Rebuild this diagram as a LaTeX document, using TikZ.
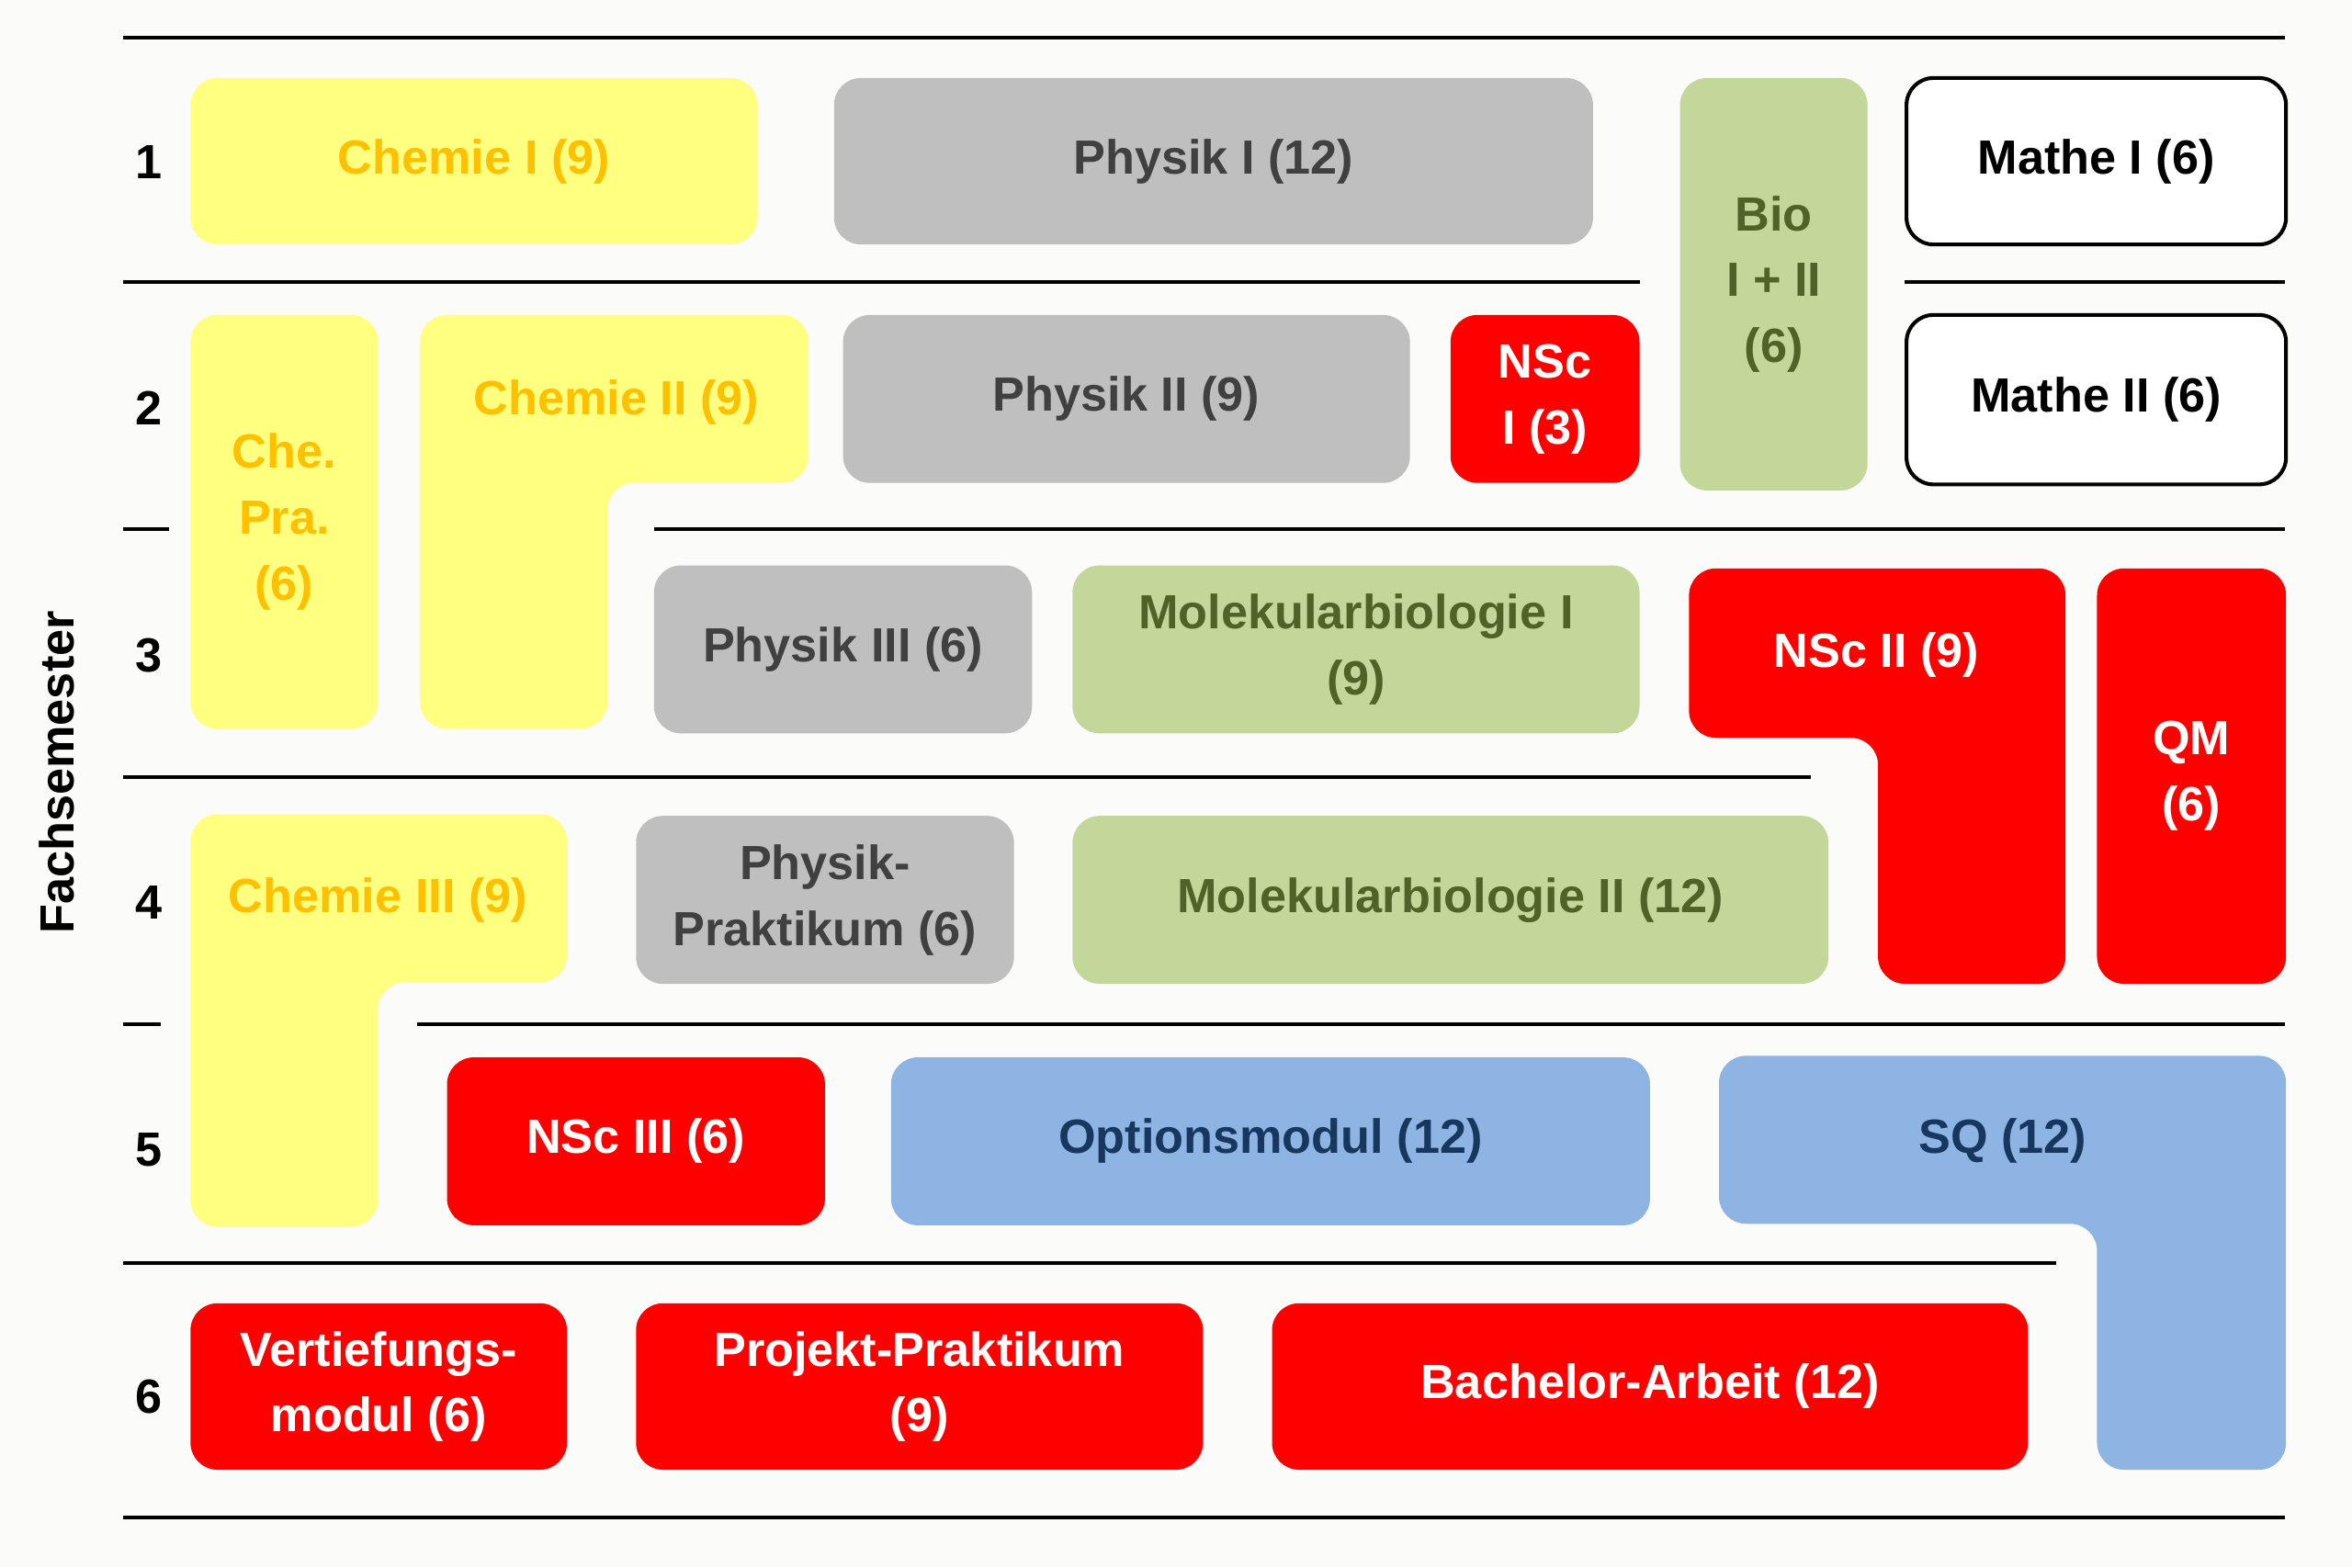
\documentclass[tikz,border=0pt]{standalone}
\usepackage{fontspec}
\setmainfont{Liberation Sans}
\begin{document}
\begin{tikzpicture}[x=1pt,y=-1pt,
  yel/.style={fill=yyel,draw=none},
  gry/.style={fill=ggry,draw=none},
  grn/.style={fill=ggrn,draw=none},
  red/.style={fill=rred,draw=none},
  blu/.style={fill=bblu,draw=none},
  wht/.style={fill=white,draw=black,line width=2.5pt},
  lbl/.style={font=\fontsize{32}{44}\selectfont\bfseries,align=center},
  rule/.style={line width=2.5pt,black},
  rc/.style={rounded corners=18pt}]
\definecolor{yyel}{HTML}{FFFF80}
\definecolor{ggry}{HTML}{BFBFBF}
\definecolor{ggrn}{HTML}{C4D79B}
\definecolor{rred}{HTML}{FF0000}
\definecolor{bblu}{HTML}{8EB4E3}
\definecolor{tor}{HTML}{FFC000}
\definecolor{tgr}{HTML}{404040}
\definecolor{tgn}{HTML}{4F6228}
\definecolor{tbl}{HTML}{17375E}
\fill[fill={rgb,255:red,251;green,251;blue,249}] (0,0) rectangle (1568,1045);
\useasboundingbox (0,0) rectangle (1568,1045);
% rules
\draw[rule] (82,25)--(1523,25);
\draw[rule] (82,188)--(1093,188); \draw[rule] (1270,188)--(1523,188);
\draw[rule] (82,353)--(113,353); \draw[rule] (436,353)--(1523,353);
\draw[rule] (82,518)--(1207,518);
\draw[rule] (82,683)--(107,683); \draw[rule] (278,683)--(1523,683);
\draw[rule] (82,842)--(1371,842);
\draw[rule] (82,1012)--(1523,1012);
% row numbers
\foreach \n/\y in {1/108,2/272,3/437,4/602,5/767,6/931}
  \node[lbl] (r\n) at (99,\y) {\n};
\node[lbl,rotate=90] (fs) at (38,515) {Fachsemester};
% simple boxes
\newcommand{\mybox}[6]{\draw[#1,rc] (#2,#3) rectangle (#4,#5); \node[lbl] (#6) at ({(#2+#4)/2},{(#3+#5)/2})}
\mybox{yel}{127}{52}{505}{163}{chemI}[text=tor]{Chemie I (9)};
\mybox{gry}{556}{52}{1062}{163}{phI}[text=tgr]{Physik I (12)};
\mybox{grn}{1120}{52}{1245}{327}{bio}[text=tgn]{Bio\\I + II\\(6)};
\mybox{wht}{1271}{52}{1524}{163}{maI}{Mathe I (6)};
\mybox{yel}{127}{210}{252}{486}{chepra}[text=tor]{Che.\\Pra.\\(6)};
\mybox{gry}{562}{210}{940}{322}{phII}[text=tgr]{Physik II (9)};
\mybox{red}{967}{210}{1093}{322}{nscI}[text=white]{NSc\\I (3)};
\mybox{wht}{1271}{210}{1524}{323}{maII}{Mathe II (6)};
\mybox{gry}{436}{377}{688}{489}{phIII}[text=tgr]{Physik III (6)};
\mybox{grn}{715}{377}{1093}{489}{mbI}[text=tgn]{Molekularbiologie I\\(9)};
\mybox{red}{1398}{379}{1524}{656}{qm}[text=white]{QM\\(6)};
\mybox{gry}{424}{544}{676}{656}{phpr}[text=tgr]{Physik-\\Praktikum (6)};
\mybox{grn}{715}{544}{1219}{656}{mbII}[text=tgn]{Molekularbiologie II (12)};
\mybox{red}{298}{705}{550}{817}{nscIII}[text=white]{NSc III (6)};
\mybox{blu}{594}{705}{1100}{817}{opt}[text=tbl]{Optionsmodul (12)};
\mybox{red}{127}{869}{378}{980}{vert}[text=white]{Vertiefungs-\\modul (6)};
\mybox{red}{424}{869}{802}{980}{proj}[text=white]{Projekt-Praktikum\\(9)};
\mybox{red}{848}{869}{1352}{980}{ba}[text=white]{Bachelor-Arbeit (12)};
% L shapes
\fill[yyel,rc] (280,210)--(539,210)--(539,322)--(405,322)--(405,486)--(280,486)--cycle;
\node[lbl,text=tor] (chemII) at (411,268) {Chemie II (9)};
\fill[rred,rc] (1126,379)--(1377,379)--(1377,656)--(1252,656)--(1252,492)--(1126,492)--cycle;
\node[lbl,text=white] (nscII) at (1251,437) {NSc II (9)};
\fill[yyel,rc] (127,543)--(378,543)--(378,655)--(252,655)--(252,818)--(127,818)--cycle;
\node[lbl,text=tor] (chemIII) at (252,600) {Chemie III (9)};
\fill[bblu,rc] (1146,704)--(1524,704)--(1524,980)--(1398,980)--(1398,816)--(1146,816)--cycle;
\node[lbl,text=tbl] (sq) at (1335,761) {SQ (12)};
\end{tikzpicture}
\end{document}
